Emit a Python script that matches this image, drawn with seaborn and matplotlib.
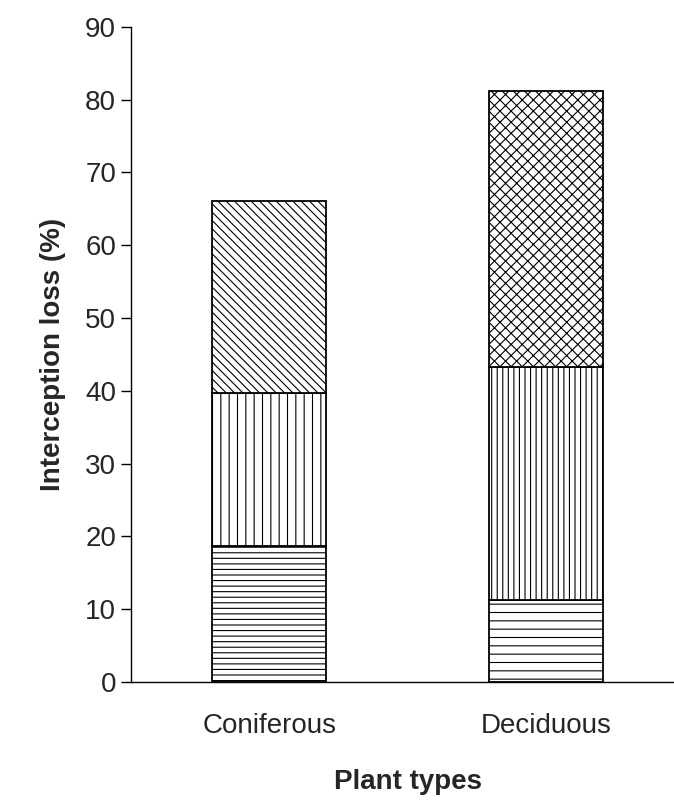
import matplotlib.pyplot as plt
import seaborn as sns
import numpy as np

categories = ['Coniferous', 'Deciduous']
bottom_vals = [18.7, 11.2]
middle_vals = [21.0, 32.0]
top_vals = [26.3, 38.0]

hatches = {
    'Coniferous': ['---', '||', '\\\\\\\\'],
    'Deciduous': ['--', '|||', 'xxx'],
}

sns.set_style('white')
plt.rcParams['font.family'] = ['Liberation Sans', 'DejaVu Sans']
plt.rcParams['hatch.linewidth'] = 0.8

fig = plt.figure(figsize=(6.74, 8.01), dpi=100)
ax = fig.add_axes([0.194, 0.1486, 0.822, 0.818])

x = np.arange(len(categories))
layers = [bottom_vals, middle_vals, top_vals]
cum = np.zeros(len(categories))
for idx, layer in enumerate(layers):
    for i, cat in enumerate(categories):
        ax.bar(x[i], layer[i], bottom=cum[i], width=0.41, color='white',
               edgecolor='black', linewidth=1.3, hatch=hatches[cat][idx])
    cum += np.array(layer)

ax.set_xlim(-0.5, 1.5)
ax.set_ylim(0, 90)
ax.set_yticks(range(0, 91, 10))
ax.set_xticks(x)
ax.set_xticklabels(categories)
ax.set_xticks([0.5], minor=True)
ax.tick_params(axis='x', which='major', length=0, pad=22, labelsize=20)
ax.tick_params(axis='x', which='minor', length=7, width=1, direction='out', color='black')
ax.tick_params(axis='y', length=7, width=1, direction='out', color='black', labelsize=20, left=True)
for s in ['top', 'right']:
    ax.spines[s].set_visible(False)
for s in ['left', 'bottom']:
    ax.spines[s].set_color('black')
    ax.spines[s].set_linewidth(1)
ax.set_ylabel('Interception loss (%)', fontsize=20, fontweight='bold', labelpad=14)
ax.set_xlabel('Plant types', fontsize=20, fontweight='bold', labelpad=22)

fig.savefig('out.png', dpi=100)
